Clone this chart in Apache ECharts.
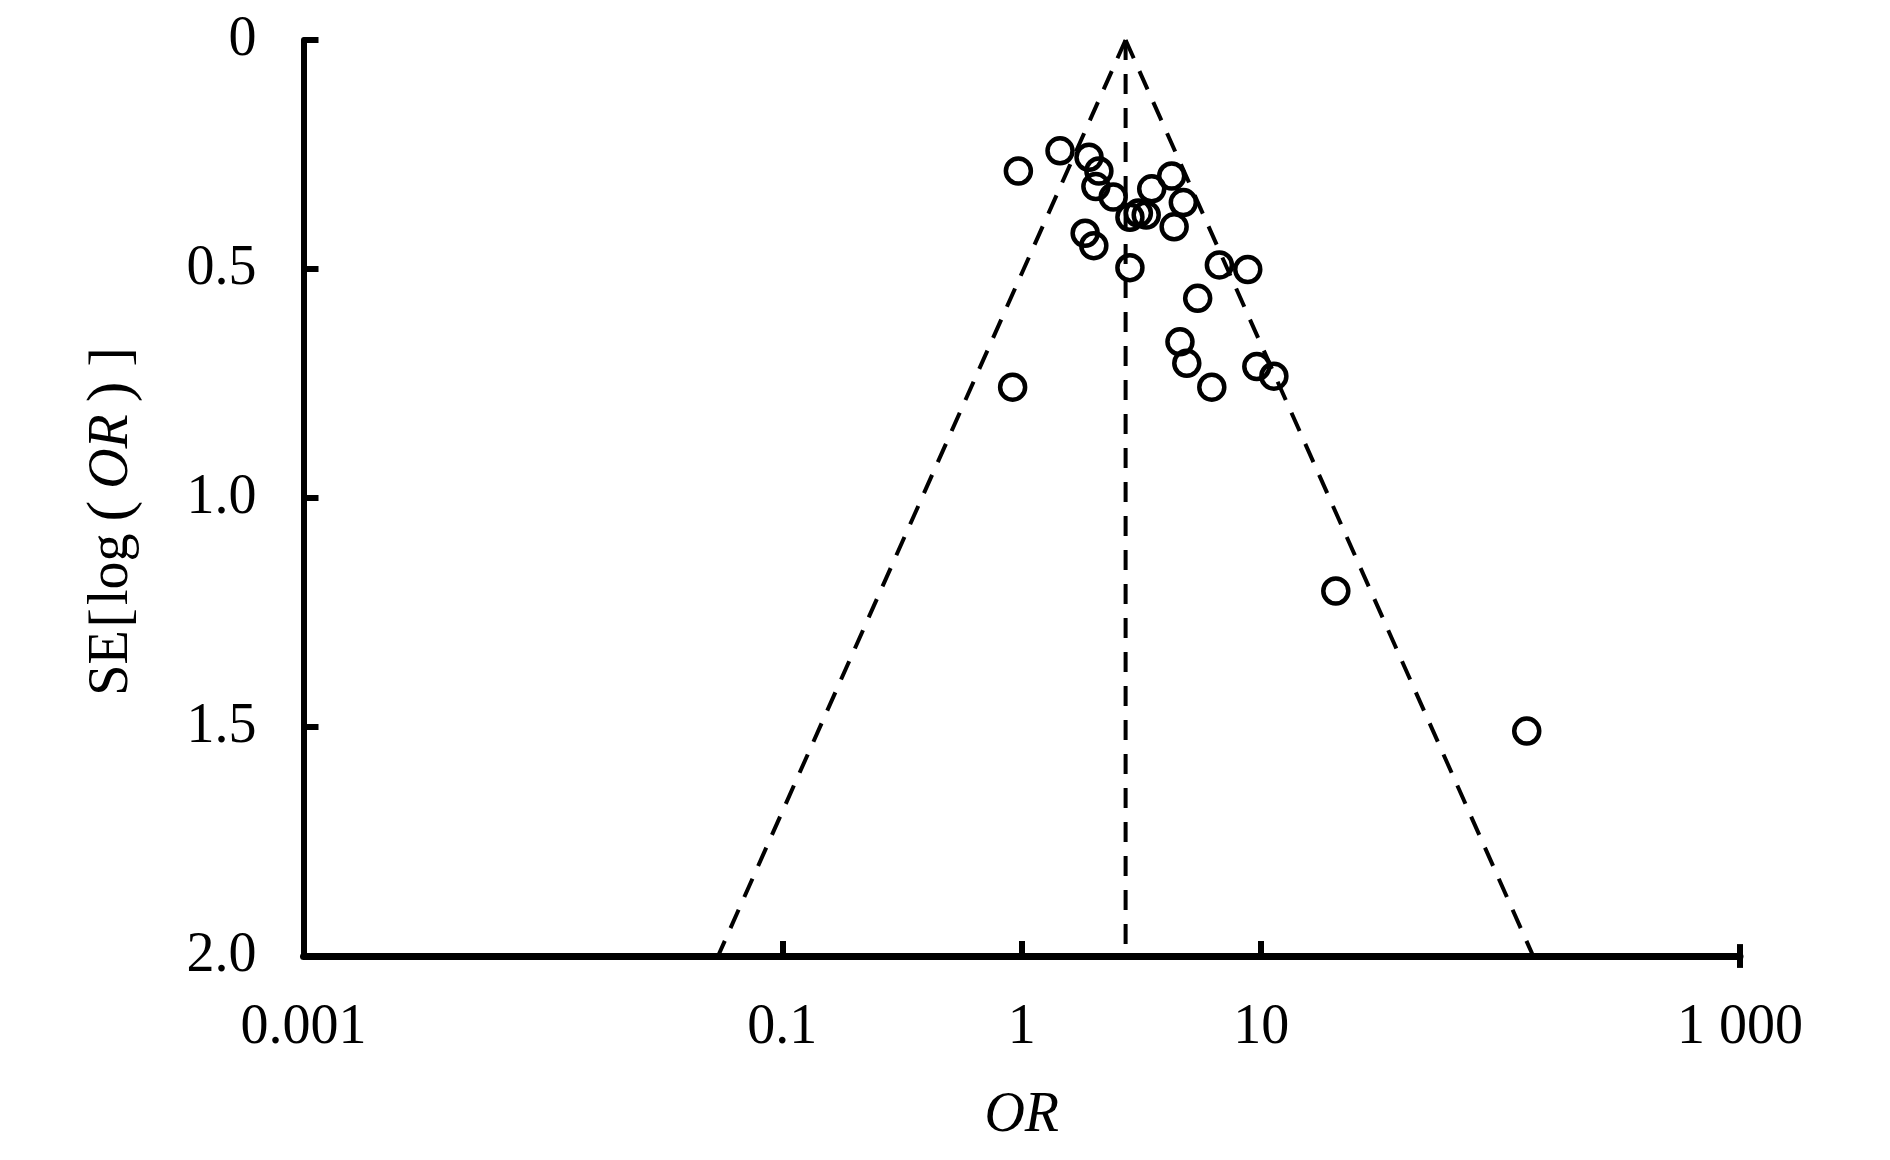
<!DOCTYPE html>
<html>
<head>
<meta charset="utf-8">
<script src="https://cdn.jsdelivr.net/npm/echarts@6/dist/echarts.min.js"></script>
<style>
html,body{margin:0;padding:0;background:#ffffff;}
#chart{width:1890px;height:1160px;}
</style>
</head>
<body>
<div id="chart"></div>
<script>
// Study odds ratios and standard errors of log(OR)
const studyOR = [0.968, 1.445, 1.91, 2.10, 2.04, 2.41, 2.83, 3.07, 3.31, 3.49, 4.23, 4.73, 4.33,
                 1.84, 2.00, 2.83, 6.69, 8.79, 5.43, 4.58, 4.89, 6.22, 9.59, 11.3, 0.916, 20.5, 128.6];
const studySE = [0.286, 0.242, 0.256, 0.286, 0.320, 0.343, 0.387, 0.378, 0.382, 0.325, 0.297, 0.355, 0.408,
                 0.422, 0.449, 0.497, 0.491, 0.501, 0.564, 0.659, 0.706, 0.758, 0.713, 0.734, 0.758, 1.203, 1.509];

// Pooled estimate and pseudo 95% confidence limits (funnel)
const pooledOR = 2.715;
const funnelLeft = [[2.715, 0], [0.0539, 2]];
const funnelRight = [[2.715, 0], [136.8, 2]];

// Axis tick values and labels
const xTickValues = [0.001, 0.1, 1, 10, 1000];
const xTickLabels = ['0.001', '0.1', '1', '10', '1 000'];
const xTickMarks = [0.1, 1, 10];
const xEndCap = [[1000, 1.974], [1000, 2.026]];
const yTickValues = [0, 0.5, 1.0, 1.5, 2.0];
const yTickLabels = ['0', '0.5', '1.0', '1.5', '2.0'];

const lg = v => Math.log10(v);
const FONT = "'Liberation Serif', 'Times New Roman', serif";

const chart = echarts.init(document.getElementById('chart'), null, {renderer: 'canvas'});

const dashStyle = {color: '#000', width: 4, type: [20, 14]};

const option = {
  animation: false,
  backgroundColor: '#ffffff',
  grid: {left: 303.5, right: 150, top: 40, bottom: 204, containLabel: false},
  xAxis: {
    type: 'value',
    min: -3, max: 3, interval: 1,
    splitLine: {show: false},
    axisLine: {show: true, onZero: false, lineStyle: {color: '#000', width: 7}},
    axisTick: {show: true, inside: true, length: 15, lineStyle: {color: '#000', width: 6},
               customValues: xTickMarks.map(lg)},
    axisLabel: {
      show: true, margin: 44, color: '#000', fontFamily: FONT, fontSize: 56,
      customValues: xTickValues.map(lg),
      formatter: function (v) {
        const i = xTickValues.findIndex(t => Math.abs(lg(t) - v) < 1e-6);
        return i >= 0 ? xTickLabels[i] : '';
      }
    },
    name: 'OR',
    nameLocation: 'middle',
    nameGap: 132,
    nameTextStyle: {color: '#000', fontFamily: FONT, fontSize: 56, fontStyle: 'italic'}
  },
  yAxis: {
    type: 'value',
    inverse: true,
    min: 0, max: 2, interval: 0.5,
    splitLine: {show: false},
    axisLine: {show: true, onZero: false, lineStyle: {color: '#000', width: 6}},
    axisTick: {show: true, inside: true, length: 15, lineStyle: {color: '#000', width: 6}},
    axisLabel: {
      show: true, margin: 47, color: '#000', fontFamily: FONT, fontSize: 56,
      formatter: function (v) {
        const i = yTickValues.findIndex(t => Math.abs(t - v) < 1e-6);
        return i >= 0 ? yTickLabels[i] : '';
      }
    },
    name: '{n|SE}{b|[}{n|log}{p|(}{i|OR}{p|)}{b|]}',
    nameLocation: 'middle',
    nameGap: 160,
    nameRotate: 90,
    nameTextStyle: {
      color: '#000', fontFamily: FONT, fontSize: 56,
      padding: [0, 44, 0, 0],
      rich: {
        n: {fontFamily: FONT, fontSize: 56, color: '#000'},
        b: {fontFamily: FONT, fontSize: 58, color: '#000', padding: [0, 3, 0, 3]},
        p: {fontFamily: FONT, fontSize: 62, color: '#000', padding: [0, 12, 0, 12]},
        i: {fontFamily: FONT, fontSize: 56, color: '#000', fontStyle: 'italic'}
      }
    }
  },
  series: [
    {
      type: 'line', name: 'pooled',
      data: [[lg(pooledOR), 0], [lg(pooledOR), 2]],
      symbol: 'none', lineStyle: dashStyle, z: 2, silent: true
    },
    {
      type: 'line', name: 'lower',
      data: funnelLeft.map(p => [lg(p[0]), p[1]]),
      symbol: 'none', lineStyle: dashStyle, z: 2, silent: true
    },
    {
      type: 'line', name: 'upper',
      data: funnelRight.map(p => [lg(p[0]), p[1]]),
      symbol: 'none', lineStyle: dashStyle, z: 2, silent: true
    },
    {
      type: 'line', name: 'endcap',
      data: xEndCap.map(p => [lg(p[0]), p[1]]),
      symbol: 'none', clip: false,
      lineStyle: {color: '#000', width: 6, type: 'solid'}, z: 4, silent: true
    },
    {
      type: 'scatter', name: 'studies',
      data: studyOR.map((o, i) => [lg(o), studySE[i]]),
      symbol: 'circle', symbolSize: 25,
      itemStyle: {color: 'rgba(0,0,0,0)', borderColor: '#000', borderWidth: 4.5, opacity: 1},
      z: 3, silent: true
    }
  ]
};

chart.setOption(option);
</script>
</body>
</html>
